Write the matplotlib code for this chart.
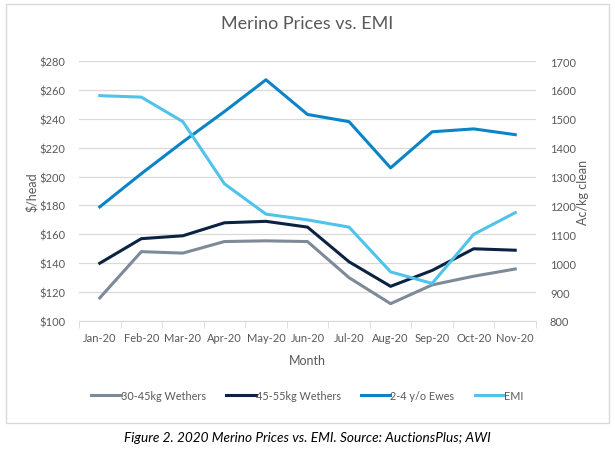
import matplotlib.pyplot as plt
from matplotlib.patches import Rectangle

plt.rcParams['font.family'] = ['Lato', 'DejaVu Sans']

months = ["Jan-20", "Feb-20", "Mar-20", "Apr-20", "May-20", "Jun-20",
          "Jul-20", "Aug-20", "Sep-20", "Oct-20", "Nov-20"]
wethers_30_45 = [116, 148, 147, 155, 155.5, 155, 130, 112, 125, 131, 136]
wethers_45_55 = [140, 157, 159, 168, 169, 165, 141, 124, 135, 150, 149]
ewes_2_4 = [179, 202, 224, 245, 267, 243, 238, 206, 231, 233, 229]
emi = [1580, 1575, 1490, 1275, 1170, 1150, 1125, 970, 930, 1100, 1175]

text_col = "#595959"
grid_col = "#D9D9D9"

fig = plt.figure(figsize=(6.15, 4.56), dpi=100)
fig.patches.append(Rectangle((6 / 615, 1 - 424 / 456), 603 / 615, 419 / 456,
                             transform=fig.transFigure, fill=False,
                             edgecolor="#D9D9D9", linewidth=1))

ax = fig.add_axes([79 / 615, 1 - 322 / 456, 457 / 615, 260 / 456])
ax2 = ax.twinx()

x = list(range(len(months)))
l1, = ax.plot(x, wethers_30_45, color="#7F8A98", lw=2.2, label="30-45kg Wethers")
l2, = ax.plot(x, wethers_45_55, color="#0B2341", lw=2.2, label="45-55kg Wethers")
l3, = ax.plot(x, ewes_2_4, color="#0A84C6", lw=2.2, label="2-4 y/o Ewes")
l4, = ax2.plot(x, emi, color="#4FC3EA", lw=2.2, label="EMI")

ax.set_xlim(-0.5, len(months) - 0.5)
ax.set_ylim(100, 280)
ax.set_yticks(range(100, 281, 20))
ax.set_yticklabels([f"${v}" for v in range(100, 281, 20)])
ax2.set_ylim(800, 1700)
ax2.set_yticks(range(800, 1701, 100))

ax.set_xticks(x)
ax.set_xticklabels(months)
ax.set_xticks([i - 0.5 for i in range(len(months) + 1)], minor=True)
ax.tick_params(axis="x", which="major", length=0, pad=8)
ax.tick_params(axis="x", which="minor", length=5, color=grid_col)
ax.grid(axis="y", color=grid_col, lw=0.9)
ax.set_axisbelow(True)

for a in (ax, ax2):
    for s in ("top", "left", "right"):
        a.spines[s].set_visible(False)
    a.spines["bottom"].set_color(grid_col)
    a.tick_params(axis="y", length=0, labelsize=8, labelcolor=text_col, pad=10)
ax.tick_params(axis="x", labelsize=8, labelcolor=text_col)
ax2.spines["bottom"].set_visible(False)

ax.set_title("Merino Prices vs. EMI", fontsize=13, color=text_col, pad=24)
ax.set_xlabel("Month", fontsize=9, color=text_col, labelpad=8)
ax.set_ylabel("$/head", fontsize=9, color=text_col, labelpad=1)
ax2.set_ylabel("Ac/kg clean", fontsize=9, color=text_col, labelpad=1)

fig.legend(handles=[l1, l2, l3, l4], loc="center", bbox_to_anchor=(0.5, 1 - 396 / 456),
           ncol=4, frameon=False, fontsize=7.8, labelcolor=text_col,
           handlelength=2.7, handletextpad=0.0, columnspacing=1.9)

fig.text(0.5, 1 - 438 / 456, "Figure 2. 2020 Merino Prices vs. EMI. Source: AuctionsPlus; AWI",
         ha="center", va="center", fontsize=9.8, style="italic", color="#000000")

fig.savefig("out.png", dpi=100)
